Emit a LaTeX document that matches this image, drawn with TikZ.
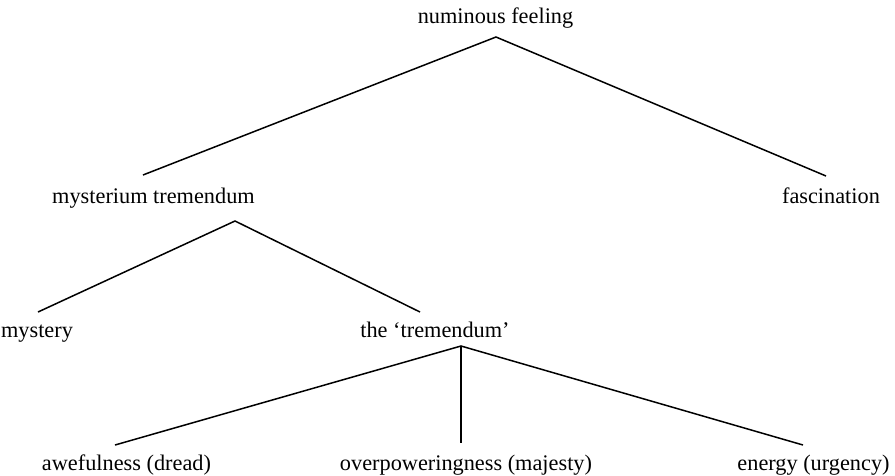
\documentclass[tikz,border=0pt]{standalone}
\usepackage{fontspec}
\setmainfont{Liberation Serif}
\begin{document}
\begin{tikzpicture}[x=1pt,y=-1pt,
  lbl/.style={anchor=base,inner sep=0pt,font=\fontsize{22.3}{26}\selectfont},
  edge/.style={line width=1.5pt,black}]
\useasboundingbox (0,0) rectangle (895,475);
% labels
\node[lbl] (num) at (495.5,23) {numinous feeling};
\node[lbl] (mys) at (153.5,203) {mysterium tremendum};
\node[lbl] (fas) at (831,203) {fascination};
\node[lbl] (mystery) at (37,337) {mystery};
\node[lbl] (trem) at (435,337) {the ‘tremendum’};
\node[lbl] (awe) at (126.5,470) {awefulness (dread)};
\node[lbl] (over) at (466,470) {overpoweringness (majesty)};
\node[lbl] (ene) at (813.5,470) {energy (urgency)};
% connector points
\coordinate (numA) at (496,37);
\coordinate (mysT) at (143,175);
\coordinate (fasT) at (826,176);
\coordinate (mysA) at (235,221);
\coordinate (mystT) at (38,312);
\coordinate (tremT) at (420,312);
\coordinate (tremA) at (461,346);
\coordinate (aweT) at (115,445);
\coordinate (overT) at (461,443);
\coordinate (eneT) at (803,445);
% connectors
\draw[edge] (mysT) -- (numA) -- (fasT);
\draw[edge] (mystT) -- (mysA) -- (tremT);
\draw[edge] (aweT) -- (tremA) -- (eneT);
\draw[edge] (tremA) -- (overT);
\end{tikzpicture}
\end{document}
